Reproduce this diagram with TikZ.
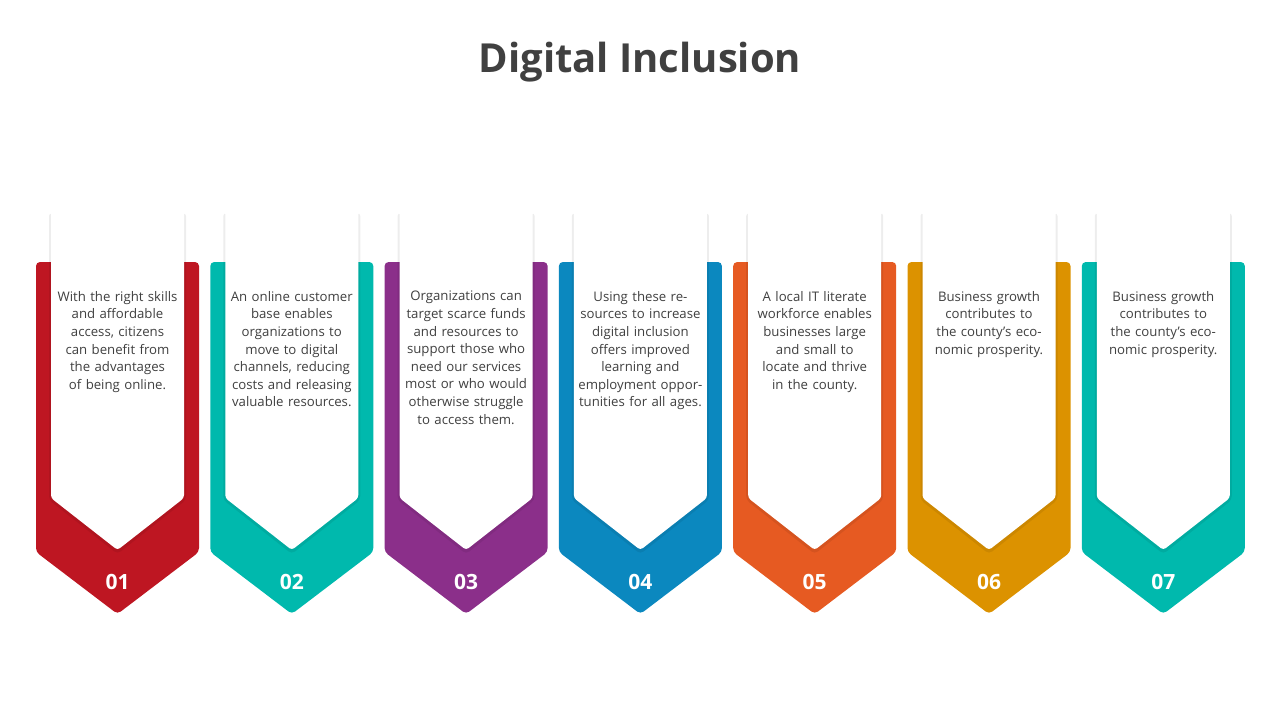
\documentclass[tikz,border=0pt]{standalone}
\usepackage{fontspec}
\setmainfont{Open Sans}
\begin{document}
\begin{tikzpicture}[x=1pt,y=-1pt,
  colshape/.style={fill=#1,rounded corners=4pt},
  whiteshape/.style={fill=white,rounded corners=3pt},
  shadowshape/.style={fill=black,opacity=0.07,rounded corners=4pt},
  body/.style={text width=126pt,align=center,font=\fontsize{13.2}{17.6}\selectfont,text=black!75,anchor=north,inner sep=0pt},
  num/.style={font=\bfseries\fontsize{21}{24}\selectfont,text=white}]
\useasboundingbox (0,0) rectangle (1280,720);
\definecolor{cA}{HTML}{BE1622}
\definecolor{cB}{HTML}{00B9AD}
\definecolor{cC}{HTML}{8B2F8A}
\definecolor{cD}{HTML}{0B88BF}
\definecolor{cE}{HTML}{E65A22}
\definecolor{cF}{HTML}{DC9200}
\definecolor{cG}{HTML}{00B9AD}
\node[font=\bfseries\fontsize{40}{46}\selectfont,text=black!75] (title) at (640,62) {Digital Inclusion};
\foreach \i/\c/\n/\t in {
 0/cA/01/{With the right skills and affordable access, citizens can benefit from the advantages of being online.},
 1/cB/02/{An online customer base enables organizations to move to digital channels, reducing costs and releasing valuable resources.},
 2/cC/03/{Organizations can target scarce funds and resources to support those who need our services most or who would otherwise struggle to access them.},
 3/cD/04/{Using these resources to increase digital inclusion offers improved learning and employment opportunities for all ages.},
 4/cE/05/{A local IT literate workforce enables businesses large and small to locate and thrive in the county.},
 5/cF/06/{Business growth contributes to the county's economic prosperity.},
 6/cG/07/{Business growth contributes to the county's economic prosperity.}}{
 \begin{scope}[xshift=174.3*\i]
  \fill[colshape=\c] (36,262) -- (199,262) -- (199,552) -- (117.5,614) -- (36,552) -- cycle;
  \fill[shadowshape] (49,212) -- (117.5,262) -- (186,212) -- (186,500) -- (117.5,554) -- (49,500) -- cycle;
  \fill[whiteshape] (51,210) -- (117.5,258) -- (184,210) -- (184,498) -- (117.5,550) -- (51,498) -- cycle;
  \node[body] (t\i) at (117.5,291) {\t};
  \node[num] (n\i) at (117.5,582) {\n};
 \end{scope}
}
\end{tikzpicture}
\end{document}
